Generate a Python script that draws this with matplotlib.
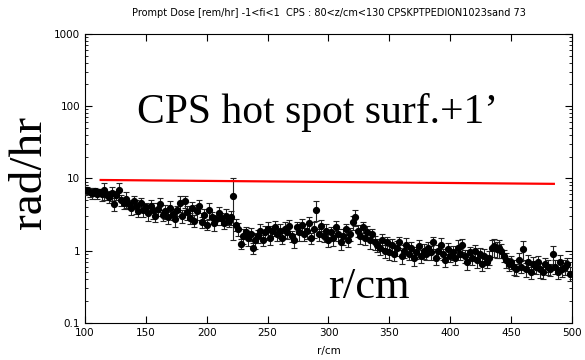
import matplotlib
matplotlib.use('Agg')
import matplotlib.pyplot as plt
import numpy as np

# prompt dose per 2 cm bin in r (rad/hr), starting at r = 100 cm
dose = [
    7.0, 6.8, 6.5, 6.3, 6.6, 6.1, 6.4,
    6.0, 6.8, 5.8, 5.5, 6.2, 4.4, 5.9, 7.0, 5.0,
    4.6, 5.2, 4.4, 3.9, 4.8, 4.1, 3.5, 4.5, 3.7, 4.0,
    3.3, 4.2, 3.6, 3.0, 3.8, 4.4, 3.1, 3.5, 2.9, 3.9,
    3.2, 2.7, 3.6, 4.6, 3.0, 4.8, 3.4, 2.8, 3.9, 2.6,
    3.5, 4.2, 2.5, 3.1, 2.3, 3.7, 2.9, 2.4, 2.7, 3.3,
    2.8, 2.4, 3.0, 2.6, 2.9, 5.7, 2.3, 2.0, 1.25, 1.6,
    1.8, 1.5, 1.7, 1.1, 1.4, 1.6, 1.9, 1.4, 1.8, 2.0,
    1.5, 1.9, 2.1, 1.7, 1.9, 1.5, 2.0, 1.8, 2.2, 1.6,
    1.4, 2.1, 1.8, 2.3, 1.7, 1.9, 2.4, 1.5, 2.0, 3.7,
    1.7, 2.2, 1.6, 1.9, 1.4, 1.8, 1.5, 2.1, 1.7, 1.3,
    1.6, 2.0, 1.4, 1.7, 2.5, 2.9, 1.9, 1.6, 2.1, 1.5,
    1.8, 1.4, 1.7, 1.3, 1.2, 1.1, 1.4, 1.0, 1.3, 0.95,
    1.2, 0.9, 1.1, 1.3, 0.85, 1.0, 1.2, 0.9, 1.1, 0.8,
    0.95, 1.15, 0.85, 1.0, 0.9, 1.1, 0.95, 1.3, 0.8, 1.0,
    1.2, 0.9, 0.75, 1.05, 0.85, 0.95, 0.8, 1.1, 0.9, 1.2,
    0.85, 0.7, 0.95, 0.8, 1.0, 0.75, 0.9, 0.65, 0.85, 0.7,
    0.8, 1.1, 1.15, 1.05, 1.1, 1.0, 0.85, 0.75, 0.65, 0.7,
    0.6, 0.55, 0.75, 0.6, 1.05, 0.55, 0.7, 0.5, 0.65, 0.6,
    0.7, 0.55, 0.5, 0.65, 0.6, 0.55, 0.9, 0.6, 0.5, 0.7,
    0.55, 0.6, 0.65, 0.48,
]

# relative statistical error per bin
rel_err = [
    .15, .12, .14, .18, .13, .16, .12,
    .20, .25, .14, .17, .22, .20, .15, .22, .18,
    .18, .24, .15, .20, .17, .22, .16, .19, .21, .15,
    .22, .18, .25, .16, .20, .23, .17, .21, .19, .24,
    .18, .22, .16, .25, .20, .19, .23, .17, .21, .18,
    .24, .20, .18, .22, .17, .25, .19, .21, .16, .23,
    .20, .18, .24, .17, .22, .75, .19, .21, .16, .23,
    .18, .22, .20, .17, .24, .19, .22, .18, .21, .25,
    .20, .17, .23, .19, .22, .18, .24, .20, .21, .17,
    .22, .19, .25, .18, .21, .23, .20, .17, .24, .30,
    .19, .22, .18, .25, .20, .17, .23, .21, .19, .22,
    .24, .18, .21, .20, .22, .25, .19, .23, .17, .21,
    .20, .24, .18, .22, .19, .21, .23, .20, .18, .22,
    .21, .19, .24, .17, .22, .20, .25, .18, .21, .23,
    .19, .22, .20, .24, .18, .21, .23, .19, .22, .20,
    .25, .18, .21, .23, .19, .22, .20, .26, .18, .21,
    .20, .23, .19, .22, .18, .24, .21, .20, .23, .19,
    .22, .26, .28, .24, .27, .22, .19, .23, .20, .21,
    .24, .20, .22, .18, .30, .21, .23, .19, .25, .20,
    .22, .24, .18, .21, .23, .20, .30, .22, .19, .24,
    .21, .23, .20, .22,
]

r_start, r_step = 100, 2

# reference level (red line)
ref_r = [113, 485]
ref_dose = [9.5, 8.4]

title = 'Prompt Dose [rem/hr] -1<fi<1  CPS : 80<z/cm<130 CPSKPTPEDION1023sand 73'

r = np.arange(len(dose)) * r_step + r_start
dose = np.array(dose)
err = dose * np.array(rel_err)

fig = plt.figure(figsize=(5.85, 3.6), dpi=100)
ax = fig.add_axes([0.145, 0.103, 0.833, 0.803])

ax.errorbar(r, dose, yerr=err, fmt='o', color='black', ms=4.2,
            ecolor='#222222', elinewidth=0.8, capsize=2, capthick=0.8, zorder=3)
ax.plot(ref_r, ref_dose, color='red', lw=1.6, zorder=4)

ax.set_yscale('log')
ax.set_xlim(100, 500)
ax.set_ylim(0.1, 1000)
ax.set_yticks([0.1, 1, 10, 100, 1000])
ax.set_yticklabels(['0.1', '1', '10', '100', '1000'])
ax.set_xticks(range(100, 501, 50))
ax.tick_params(which='both', direction='in', top=True, right=True, labelsize=7.5)
ax.tick_params(which='major', length=5)
ax.tick_params(which='minor', length=2.5)
ax.set_xlabel('r/cm', fontsize=7.5, labelpad=6)
ax.set_title(title, fontsize=7, pad=13)

serif = ['Liberation Serif', 'DejaVu Serif']
fig.text(318 / 585, 1 - 112 / 360, 'CPS hot spot surf.+1\u2019', family=serif,
         fontsize=30, ha='center', va='center')
fig.text(30 / 585, 1 - 172 / 360, 'rad/hr', family=serif, fontsize=34,
         rotation=90, ha='center', va='center')
fig.text(369 / 585, 1 - 287 / 360, 'r/cm', family=serif, fontsize=32,
         ha='center', va='center')

fig.savefig('out.png', dpi=100)
plt.close(fig)
